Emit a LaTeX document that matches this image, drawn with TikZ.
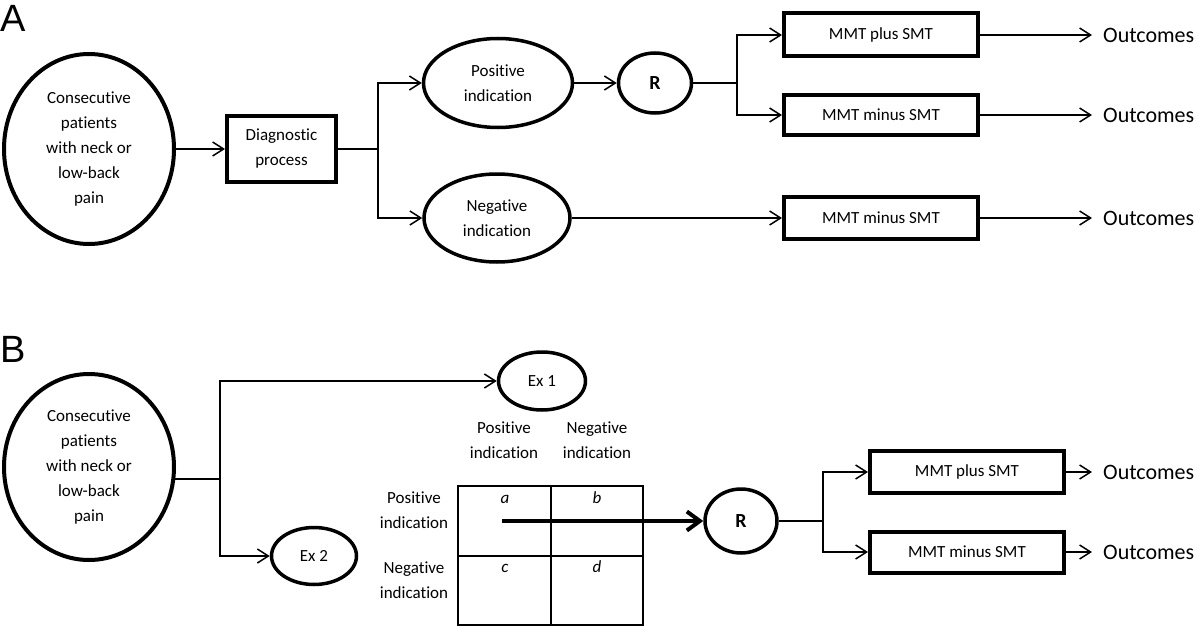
\documentclass[tikz,border=0pt]{standalone}
\usepackage{fontspec}
\setmainfont{Carlito}[Ligatures=NoCommon]
\newfontfamily\labelfont{Liberation Sans}
\usetikzlibrary{shapes.geometric,arrows.meta}
\begin{document}
\begin{tikzpicture}[x=1pt,y=-1pt,
  txt/.style={font=\fontsize{17}{25}\selectfont, align=center},
  bigell/.style={ellipse, draw, line width=4pt, inner sep=0pt, minimum width=170pt, txt},
  ell/.style={ellipse, draw, line width=3.5pt, inner sep=0pt, txt},
  box/.style={rectangle, draw, line width=4pt, inner sep=0pt, txt},
  cell/.style={rectangle, draw, line width=1.2pt, inner sep=0pt, minimum width=93pt, minimum height=70pt},
  conn/.style={line width=1.5pt},
  arr/.style={conn, -{Straight Barb[length=11pt,width=14pt]}},
  bigarr/.style={line width=4pt, -{Straight Barb[length=13pt,width=19pt]}},
  outc/.style={anchor=west, inner xsep=11pt, inner ysep=0pt, font=\fontsize{22}{26}\selectfont},
  rlab/.style={font=\fontsize{20}{24}\selectfont\bfseries},
  panel/.style={anchor=base west, inner sep=0pt, font=\labelfont\fontsize{38}{40}\selectfont},
  lett/.style={anchor=base, inner sep=0pt, font=\fontsize{17}{20}\selectfont\itshape}
]
\useasboundingbox (0,0) rectangle (1200,626);

% ---------- Panel A ----------
\node[panel] (lA) at (0,32) {A};
\node[bigell, minimum height=190pt] (pA) at (89,149) {Consecutive\\patients\\with neck or\\low-back\\pain};
\node[box, minimum width=109pt, minimum height=66pt] (diag) at (281.5,149) {Diagnostic\\process};
\node[ell, minimum width=149pt, minimum height=89pt] (pos) at (498,83) {Positive\\indication};
\node[ell, minimum width=146pt, minimum height=88pt] (neg) at (497,218) {Negative\\indication};
\node[ell, minimum width=73pt, minimum height=60pt, rlab] (rA) at (655,83) {R};
\node[box, minimum width=194pt, minimum height=43pt] (b1) at (881,35) {MMT plus SMT};
\node[box, minimum width=194pt, minimum height=40pt] (b2) at (881,115) {MMT minus SMT};
\node[box, minimum width=194pt, minimum height=42pt] (b3) at (881,218) {MMT minus SMT};
\node[outc] (o1) at (1092,35) {Outcomes};
\node[outc] (o2) at (1092,115) {Outcomes};
\node[outc] (o3) at (1092,218) {Outcomes};

\coordinate (jA) at (378,149);
\coordinate (jR) at (737,83);
\draw[arr] (pA) -- (diag);
\draw[conn] (diag.east) -- (jA);
\draw[arr] (jA) |- (pos.west);
\draw[arr] (jA) |- (neg.west);
\draw[arr] (pos) -- (rA);
\draw[conn] (rA.east) -- (jR);
\draw[arr] (jR) |- (b1.west);
\draw[arr] (jR) |- (b2.west);
\draw[arr] (neg) -- (b3);
\draw[arr] (b1) -- (o1);
\draw[arr] (b2) -- (o2);
\draw[arr] (b3) -- (o3);

% ---------- Panel B ----------
\node[panel] (lB) at (0,362) {B};
\node[bigell, minimum height=186pt] (pB) at (89,467) {Consecutive\\patients\\with neck or\\low-back\\pain};
\node[ell, minimum width=87pt, minimum height=58pt] (ex1) at (542,381) {Ex 1};
\node[ell, minimum width=85pt, minimum height=57pt] (ex2) at (314,556) {Ex 2};

\node[txt] (hpos) at (504,440.5) {Positive\\indication};
\node[txt] (hneg) at (597,440.5) {Negative\\indication};
\node[txt] (rpos) at (414,510) {Positive\\indication};
\node[txt] (rneg) at (414,580) {Negative\\indication};

\node[cell] (ta) at (504.5,521) {};
\node[cell, minimum width=92pt] (tb) at (597,521) {};
\node[cell, minimum height=69pt] (tc) at (504.5,590.5) {};
\node[cell, minimum width=92pt, minimum height=69pt] (td) at (597,590.5) {};
\node[lett] (la) at (505,503) {a};
\node[lett] (lb) at (597,503) {b};
\node[lett] (lc) at (505,572) {c};
\node[lett] (ld) at (597,572) {d};

\node[ell, minimum width=72pt, minimum height=64pt, rlab] (rB) at (741,521) {R};
\node[box, minimum width=194pt, minimum height=42pt] (c1) at (967,472) {MMT plus SMT};
\node[box, minimum width=194pt, minimum height=41pt] (c2) at (967,552) {MMT minus SMT};
\node[outc] (q1) at (1092,472) {Outcomes};
\node[outc] (q2) at (1092,552) {Outcomes};

\coordinate (x220) at (220,0);
\coordinate (jB) at (x220 |- pB.-8);
\coordinate (start) at (502,521);
\coordinate (jRB) at (823,521);
\draw[conn] (pB.-8) -- (jB);
\draw[arr] (jB) |- (ex1.west);
\draw[arr] (jB) |- (ex2.west);
\draw[bigarr] (start) -- (rB);
\draw[conn] (rB.east) -- (jRB);
\draw[arr] (jRB) |- (c1.west);
\draw[arr] (jRB) |- (c2.west);
\draw[arr] (c1) -- (q1);
\draw[arr] (c2) -- (q2);
\end{tikzpicture}
\end{document}
